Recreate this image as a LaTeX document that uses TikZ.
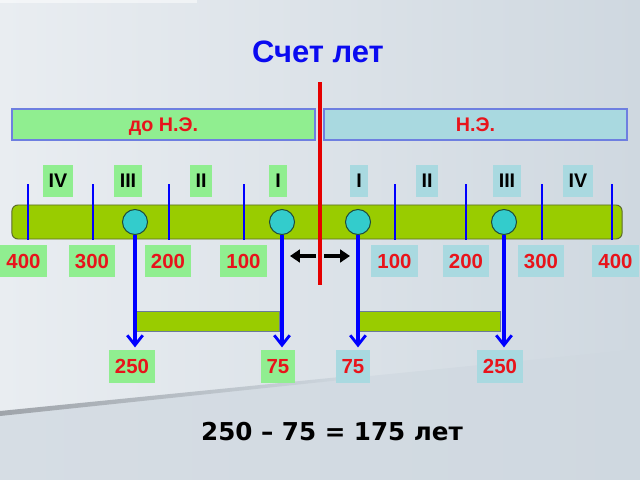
\documentclass[tikz,border=0pt]{standalone}
\usepackage{fontspec}
\setmainfont{Liberation Sans}
\newfontfamily\dejavu{DejaVu Sans}
\usepackage{xcolor}
\usepackage{tikz}
\usetikzlibrary{arrows.meta, positioning, calc}

\definecolor{bgleft}{HTML}{E9EDF1}
\definecolor{bgright}{HTML}{CFD8E0}
\definecolor{bglow}{HTML}{D6DDE4}
\definecolor{edgegray}{HTML}{9FA4AA}
\definecolor{bclight}{HTML}{90EE90}
\definecolor{adlight}{HTML}{A9D9E0}
\definecolor{barfill}{HTML}{99CC00}
\definecolor{bardraw}{HTML}{5B6B2A}
\definecolor{dotfill}{HTML}{33CCCC}
\definecolor{dotdraw}{HTML}{1E4A3C}
\definecolor{boxline}{HTML}{6E7FE0}
\definecolor{spanline}{HTML}{6A7A9A}
\definecolor{yearred}{HTML}{E8141B}
\definecolor{titleblue}{HTML}{0A0AF0}

\begin{document}
\begin{tikzpicture}[x=0.025cm, y=-0.025cm,
    era/.style={draw=boxline, line width=0.9pt, minimum width=7.575cm, minimum height=0.775cm,
        text height=1em, text depth=0pt, text=yearred, font=\bfseries\fontsize{14}{16}\selectfont},
    roman/.style={inner xsep=0.15cm, inner ysep=0pt, minimum height=0.78cm,
        font=\bfseries\fontsize{14}{16}\selectfont},
    year/.style={inner xsep=0.15cm, inner ysep=0pt, minimum height=0.8cm,
        text=yearred, font=\bfseries\fontsize{14.5}{16}\selectfont},
    timebar/.style={draw=bardraw, line width=0.7pt, fill=barfill, rounded corners=0.15cm,
        minimum width=15.25cm, minimum height=0.85cm},
    spanbar/.style={draw=spanline, line width=0.6pt, fill=barfill, minimum height=0.5cm},
    dot/.style={circle, draw=dotdraw, line width=0.7pt, fill=dotfill, inner sep=0pt, minimum size=0.625cm},
    tick/.style={blue, line width=2.1pt},
    down/.style={blue, line width=3pt, shorten >=2pt, -{Straight Barb[length=7pt, width=11pt, line width=2pt]}},
    dir/.style={black, line width=2.8pt, -{Triangle[length=7pt, width=9pt]}},
    zero/.style={red!90!black, line width=2.8pt}]

    % Background
    \shade[left color=bgleft, right color=bgright] (0,0) rectangle (640,480);
    \shade[left color=bglow, right color=bgright] (0,413) -- (640,349) -- (640,480) -- (0,480) -- cycle;
    \shade[left color=edgegray, right color=bgright] (0,411) -- (360,375) -- (360,378) -- (0,416) -- cycle;
    \fill[white, opacity=0.5] (0,0) rectangle (197,3);
    \useasboundingbox (0,0) rectangle (640,480);

    % Title
    \node[text=titleblue, font=\bfseries\fontsize{22}{26}\selectfont] (title) at (318,52) {Счет лет};

    % Eras
    \node[era, fill=bclight] (bc) at (163.5,124.5) {до Н.Э.};
    \node[era, fill=adlight] (ad) at (475.5,124.5) {Н.Э.};

    % Time line
    \node[timebar] (bar) at (317,222) {};

    % Century borders
    \draw[tick] (28,184) -- (28,240);
    \draw[tick] (93,184) -- (93,240);
    \draw[tick] (169,184) -- (169,240);
    \draw[tick] (244,184) -- (244,240);
    \draw[tick] (395,184) -- (395,240);
    \draw[tick] (466,184) -- (466,240);
    \draw[tick] (542,184) -- (542,240);
    \draw[tick] (612,184) -- (612,240);

    % Centuries
    \node[roman, fill=bclight] (bc4) at (58,181) {IV};
    \node[roman, fill=bclight] (bc3) at (128,181) {III};
    \node[roman, fill=bclight] (bc2) at (201,181) {II};
    \node[roman, fill=bclight] (bc1) at (278,181) {I};
    \node[roman, fill=adlight] (ad1) at (359,181) {I};
    \node[roman, fill=adlight] (ad2) at (427,181) {II};
    \node[roman, fill=adlight] (ad3) at (507,181) {III};
    \node[roman, fill=adlight] (ad4) at (578,181) {IV};

    % Years
    \node[year, fill=bclight] (ybc400) at (23.5,261) {400};
    \node[year, fill=bclight] (ybc300) at (92,261) {300};
    \node[year, fill=bclight] (ybc200) at (168,261) {200};
    \node[year, fill=bclight] (ybc100) at (243.5,261) {100};
    \node[year, fill=adlight] (yad100) at (394.5,261) {100};
    \node[year, fill=adlight] (yad200) at (466,261) {200};
    \node[year, fill=adlight] (yad300) at (541,261) {300};
    \node[year, fill=adlight] (yad400) at (615.5,261) {400};

    % Year zero
    \coordinate (zerotop) at (320,82);
    \coordinate (zerobot) at (320,285);
    \draw[zero] (zerotop) -- (zerobot);

    % Counting directions
    \coordinate (bcfrom) at (316,256);
    \coordinate (bcto) at (290,256);
    \coordinate (adfrom) at (324,256);
    \coordinate (adto) at (350,256);
    \draw[dir] (bcfrom) -- (bcto);
    \draw[dir] (adfrom) -- (adto);

    % Events
    \node[dot] (evbc1) at (135,222) {};
    \node[dot] (evbc2) at (282,222) {};
    \node[dot] (evad1) at (358,222) {};
    \node[dot] (evad2) at (504,222) {};

    % Spans
    \node[spanbar, minimum width=3.6cm] (spanbc) at (207,321) {};
    \node[spanbar, minimum width=3.575cm] (spanad) at (428.5,321) {};

    \node[year, fill=bclight] (dbc250) at (132,366.5) {250};
    \node[year, fill=bclight] (dbc75) at (278,366.5) {75};
    \node[year, fill=adlight] (dad75) at (353,366.5) {75};
    \node[year, fill=adlight] (dad250) at (500,366.5) {250};

    \draw[down] (evbc1) -- (evbc1 |- dbc250.north);
    \draw[down] (evbc2) -- (evbc2 |- dbc75.north);
    \draw[down] (evad1) -- (evad1 |- dad75.north);
    \draw[down] (evad2) -- (evad2 |- dad250.north);

    % Result
    \node[font=\dejavu\bfseries\fontsize{17.5}{20}\selectfont] (result) at (332,432) {250 – 75 = 175 лет};
\end{tikzpicture}
\end{document}
